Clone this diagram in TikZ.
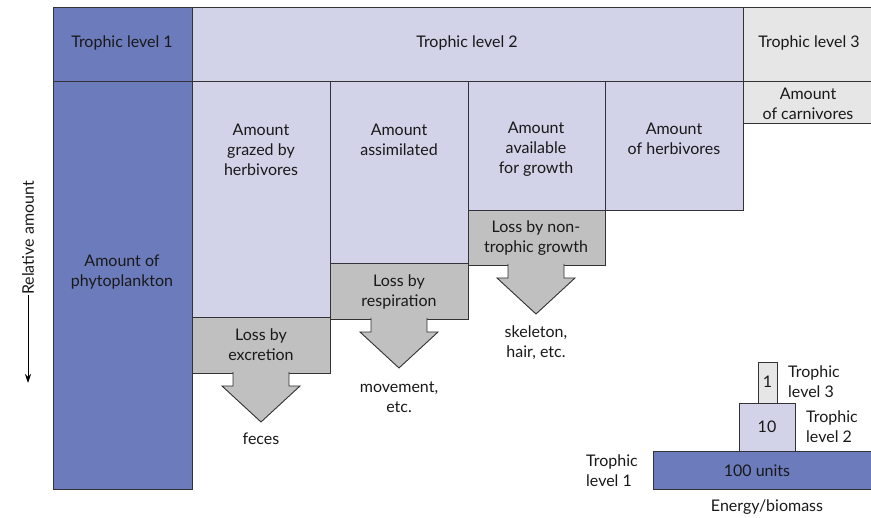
\documentclass[tikz,border=0pt]{standalone}
\usepackage{fontspec}
\setmainfont{Lato}
\usetikzlibrary{arrows.meta}
\definecolor{levelone}{RGB}{108,123,188}
\definecolor{leveltwo}{RGB}{210,211,232}
\definecolor{levelthree}{RGB}{230,230,230}
\definecolor{lossgrey}{RGB}{192,192,192}
\definecolor{edgegrey}{RGB}{50,50,55}
\tikzset{
  lbl/.style={align=center, inner sep=0pt, text=black!90, font=\fontsize{16}{20}\selectfont},
  cell/.style={draw=edgegrey, line width=0.9pt},
}
% block arrow below a loss box: #1 centre x, #2 top y
\newcommand{\lossarrow}[2]{%
  \path[fill=lossgrey, draw=edgegrey, line width=0.9pt, line join=miter]
    (#1-28,#2-1) -- (#1-28,#2+13) -- (#1-39,#2+13) -- (#1,#2+49) -- (#1+39,#2+13) -- (#1+28,#2+13) -- (#1+28,#2-1);
}

\begin{document}
\begin{tikzpicture}[x=1pt,y=-1pt]
			\useasboundingbox (0,0) rectangle (871,518);
			% header row
			\draw[cell, fill=levelone] (53,7) rectangle (192,81);
			\draw[cell, fill=leveltwo] (192,7) rectangle (743,81);
			\draw[cell, fill=levelthree] (743,7) rectangle (876,81);
			\node[lbl] (head1) at (122,43) {Trophic level 1};
			\node[lbl] (head2) at (467,43) {Trophic level 2};
			\node[lbl] (head3) at (809,43) {Trophic level 3};
			% amounts
			\draw[cell, fill=levelone] (53,81) rectangle (192,489);
			\draw[cell, fill=leveltwo] (192,81) rectangle (330,317);
			\draw[cell, fill=leveltwo] (330,81) rectangle (468,263);
			\draw[cell, fill=leveltwo] (468,81) rectangle (605,210);
			\draw[cell, fill=leveltwo] (605,81) rectangle (743,210);
			\draw[cell, fill=levelthree] (743,81) rectangle (876,123);
			\node[lbl] (phyto) at (122,272) {Amount of\\phytoplankton};
			\node[lbl] (grazed) at (261,150) {Amount\\grazed by\\herbivores};
			\node[lbl] (assim) at (399,140) {Amount\\assimilated};
			\node[lbl] (avail) at (536,149) {Amount\\available\\for growth};
			\node[lbl] (herbi) at (674,139) {Amount\\of herbivores};
			\node[lbl] (carni) at (808,104) {Amount\\of carnivores};
			% losses
			\draw[cell, fill=lossgrey] (192,317) rectangle (330,373);
			\draw[cell, fill=lossgrey] (330,263) rectangle (468,319);
			\draw[cell, fill=lossgrey] (468,210) rectangle (605,265);
			\lossarrow{261}{373}
			\lossarrow{399}{319}
			\lossarrow{536}{265}
			\node[lbl] (excr) at (261,345) {Loss by\\excretion};
			\node[lbl] (resp) at (399,292) {Loss by\\respiration};
			\node[lbl] (nontr) at (536,238) {Loss by non-\\trophic growth};
			\node[lbl] (feces) at (261,439) {feces};
			\node[lbl] (move) at (399,397) {movement,\\etc.};
			\node[lbl] (skel) at (536,343) {skeleton,\\hair, etc.};
			% axis
			\node[lbl, rotate=90] (relamt) at (28,238) {Relative amount};
			\coordinate (axisend) at (28,383);
			\draw[line width=0.8pt, -{Stealth[length=9pt,width=6pt]}] (relamt.west) -- (axisend);
			% pyramid
			\draw[cell, fill=levelone] (653,451) rectangle (876,489);
			\draw[cell, fill=leveltwo] (739,403) rectangle (795,451);
			\draw[cell, fill=levelthree] (758,362) rectangle (777,403);
			\node[lbl] (units100) at (757,471) {100 units};
			\node[lbl] (units10) at (767,427) {10};
			\node[lbl] (units1) at (767.5,382) {1};
			\node[lbl, align=left, anchor=west] (lev3) at (788,382) {Trophic\\level 3};
			\node[lbl, align=left, anchor=west] (lev2) at (806,427) {Trophic\\level 2};
			\node[lbl, align=left, anchor=west] (lev1) at (586,471) {Trophic\\level 1};
			\node[lbl] (energy) at (767,507) {Energy/biomass};
\end{tikzpicture}
\end{document}
